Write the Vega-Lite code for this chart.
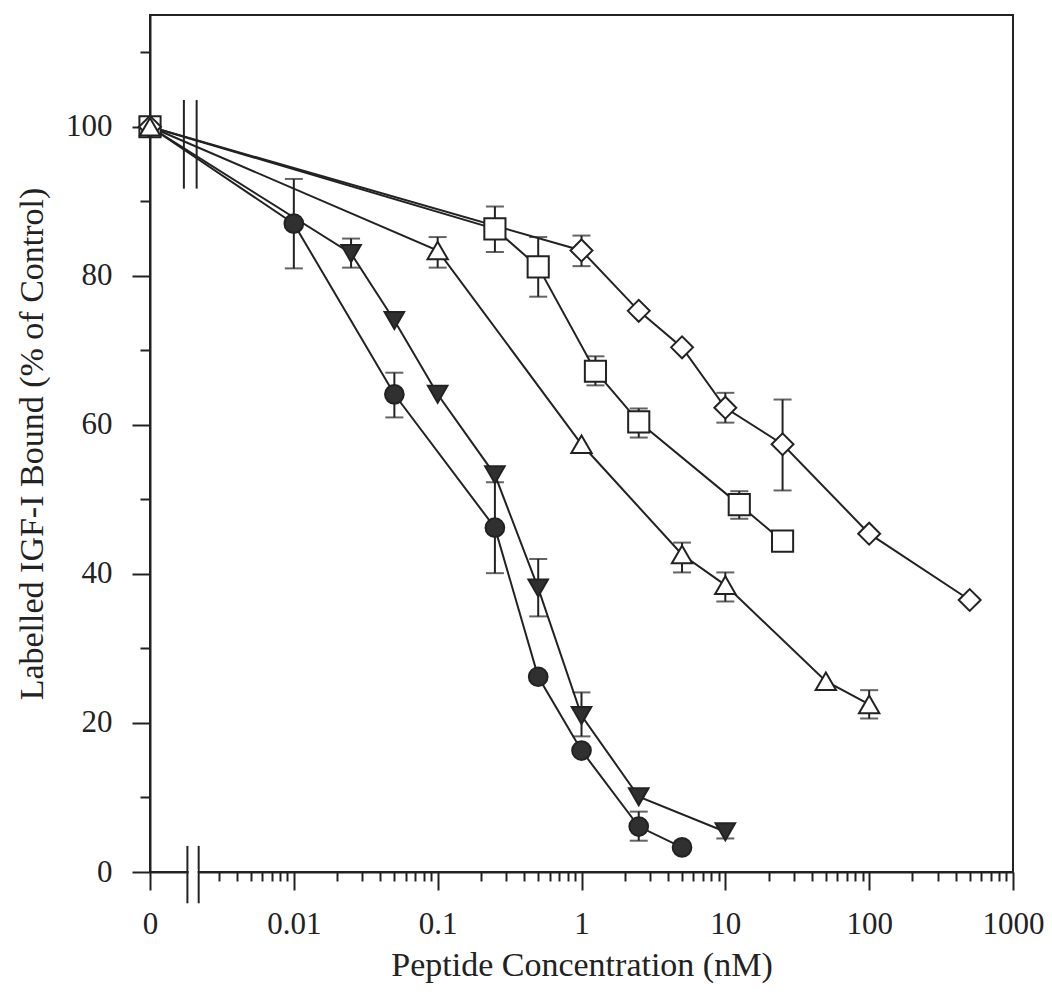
{
  "$schema": "https://vega.github.io/schema/vega-lite/v6.json",
  "width": 863,
  "height": 857,
  "autosize": {"type": "none"},
  "padding": {"left": 150, "top": 15, "right": 39, "bottom": 130},
  "background": "white",
  "config": {
    "view": {"stroke": "#222", "strokeWidth": 2},
    "axis": {
      "labelFont": "Liberation Serif",
      "titleFont": "Liberation Serif",
      "labelColor": "#222",
      "titleColor": "#222",
      "domainColor": "#222",
      "tickColor": "#222",
      "grid": false,
      "domainWidth": 2,
      "tickWidth": 2,
      "titleFontWeight": "normal",
      "labelFontSize": 31,
      "titleFontSize": 34,
      "labelOverlap": false,
      "labelFlush": false
    }
  },
  "datasets": {
    "pts": [
      {"series": "A", "conc": 0.001, "val": 100},
      {"series": "A", "conc": 0.01, "val": 87},
      {"series": "A", "conc": 0.05, "val": 64.1},
      {"series": "A", "conc": 0.25, "val": 46.2},
      {"series": "A", "conc": 0.5, "val": 26.2},
      {"series": "A", "conc": 1, "val": 16.3},
      {"series": "A", "conc": 2.5, "val": 6.1},
      {"series": "A", "conc": 5, "val": 3.3},
      {"series": "B", "conc": 0.001, "val": 100},
      {"series": "B", "conc": 0.025, "val": 83},
      {"series": "B", "conc": 0.05, "val": 74},
      {"series": "B", "conc": 0.1, "val": 64.1},
      {"series": "B", "conc": 0.25, "val": 53.3},
      {"series": "B", "conc": 0.5, "val": 38.1},
      {"series": "B", "conc": 1, "val": 21},
      {"series": "B", "conc": 2.5, "val": 10.1},
      {"series": "B", "conc": 10, "val": 5.4},
      {"series": "D", "conc": 0.001, "val": 100},
      {"series": "D", "conc": 0.25, "val": 86.3},
      {"series": "D", "conc": 0.5, "val": 81.2},
      {"series": "D", "conc": 1.25, "val": 67.2},
      {"series": "D", "conc": 2.5, "val": 60.4},
      {"series": "D", "conc": 12.5, "val": 49.3},
      {"series": "D", "conc": 25, "val": 44.4},
      {"series": "E", "conc": 0.001, "val": 100},
      {"series": "E", "conc": 1, "val": 83.4},
      {"series": "E", "conc": 2.5, "val": 75.3},
      {"series": "E", "conc": 5, "val": 70.4},
      {"series": "E", "conc": 10, "val": 62.3},
      {"series": "E", "conc": 25, "val": 57.4},
      {"series": "E", "conc": 100, "val": 45.4},
      {"series": "E", "conc": 500, "val": 36.5},
      {"series": "C", "conc": 0.001, "val": 100},
      {"series": "C", "conc": 0.1, "val": 83.4},
      {"series": "C", "conc": 1, "val": 57.4},
      {"series": "C", "conc": 5, "val": 42.6},
      {"series": "C", "conc": 10, "val": 38.5},
      {"series": "C", "conc": 50, "val": 25.6},
      {"series": "C", "conc": 100, "val": 22.5}
    ],
    "errs": [
      {"series": "A", "conc": 0.01, "lo": 81, "hi": 93},
      {"series": "A", "conc": 0.05, "lo": 61, "hi": 67},
      {"series": "A", "conc": 0.25, "lo": 40.1, "hi": 52.3},
      {"series": "A", "conc": 2.5, "lo": 4.2, "hi": 8.1},
      {"series": "B", "conc": 0.025, "lo": 81.1, "hi": 85},
      {"series": "B", "conc": 0.5, "lo": 34.3, "hi": 42},
      {"series": "B", "conc": 1, "lo": 18.2, "hi": 24.1},
      {"series": "B", "conc": 10, "lo": 4.5, "hi": 6.3},
      {"series": "C", "conc": 0.1, "lo": 81.1, "hi": 85.2},
      {"series": "C", "conc": 5, "lo": 40.2, "hi": 44.2},
      {"series": "C", "conc": 10, "lo": 36.3, "hi": 40.2},
      {"series": "C", "conc": 100, "lo": 20.6, "hi": 24.4},
      {"series": "D", "conc": 0.25, "lo": 83.2, "hi": 89.3},
      {"series": "D", "conc": 0.5, "lo": 77.2, "hi": 85.2},
      {"series": "D", "conc": 1.25, "lo": 65.3, "hi": 69.2},
      {"series": "D", "conc": 2.5, "lo": 58.3, "hi": 62.2},
      {"series": "D", "conc": 12.5, "lo": 47.4, "hi": 51.1},
      {"series": "E", "conc": 1, "lo": 81.3, "hi": 85.4},
      {"series": "E", "conc": 10, "lo": 60.3, "hi": 64.3},
      {"series": "E", "conc": 25, "lo": 51.2, "hi": 63.4}
    ],
    "breaks": [
      {"kind": "bar", "x": 0.00172, "y1": 91.7, "y2": 103.6},
      {"kind": "bar", "x": 0.00211, "y1": 91.7, "y2": 103.6},
      {"kind": "bar", "x": 0.00182, "y1": -4.2, "y2": 3.5},
      {"kind": "bar", "x": 0.00218, "y1": -4.2, "y2": 3.5}
    ],
    "gap": [
      {"x1": 0.00186, "x2": 0.00214, "y": 0}
    ]
  },
  "layer": [
    {
      "layer": [
        {
          "data": {"name": "pts"},
          "mark": {"type": "line", "color": "#222", "strokeWidth": 2},
          "encoding": {
            "x": {"field": "conc", "type": "quantitative", "scale": {"type": "log", "domain": [0.001, 1000], "nice": false},
              "axis": {"orient": "bottom", "title": "Peptide Concentration (nM)", "values": [0.001, 0.01, 0.1, 1, 10, 100, 1000], "labelExpr": "datum.value < 0.005 ? '0' : '' + datum.value", "tickSize": 18, "labelPadding": 19, "titlePadding": 9}},
            "y": {"field": "val", "type": "quantitative", "scale": {"domain": [0, 115], "nice": false, "zero": false},
              "axis": {"orient": "left", "title": "Labelled IGF-I Bound (% of Control)", "values": [0, 20, 40, 60, 80, 100], "tickSize": 18, "labelPadding": 20, "titlePadding": 16}},
            "detail": {"field": "series"}
          }
        },
        {
          "data": {"name": "errs"},
          "mark": {"type": "rule", "color": "#222", "strokeWidth": 2},
          "encoding": {
            "x": {"field": "conc", "type": "quantitative", "scale": {"type": "log", "domain": [0.001, 1000], "nice": false},
              "axis": {"orient": "bottom", "title": "Peptide Concentration (nM)", "values": [0.001, 0.01, 0.1, 1, 10, 100, 1000], "labelExpr": "datum.value < 0.005 ? '0' : '' + datum.value", "tickSize": 18, "labelPadding": 19, "titlePadding": 9}},
            "y": {"field": "lo", "type": "quantitative", "scale": {"domain": [0, 115], "nice": false, "zero": false},
              "axis": {"orient": "left", "title": "Labelled IGF-I Bound (% of Control)", "values": [0, 20, 40, 60, 80, 100], "tickSize": 18, "labelPadding": 20, "titlePadding": 16}},
            "y2": {"field": "hi"}
          }
        },
        {
          "data": {"name": "errs"},
          "mark": {"type": "tick", "orient": "horizontal", "color": "#222", "thickness": 2, "size": 18},
          "encoding": {
            "x": {"field": "conc", "type": "quantitative", "scale": {"type": "log", "domain": [0.001, 1000], "nice": false},
              "axis": {"orient": "bottom", "title": "Peptide Concentration (nM)", "values": [0.001, 0.01, 0.1, 1, 10, 100, 1000], "labelExpr": "datum.value < 0.005 ? '0' : '' + datum.value", "tickSize": 18, "labelPadding": 19, "titlePadding": 9}},
            "y": {"field": "lo", "type": "quantitative", "scale": {"domain": [0, 115], "nice": false, "zero": false},
              "axis": {"orient": "left", "title": "Labelled IGF-I Bound (% of Control)", "values": [0, 20, 40, 60, 80, 100], "tickSize": 18, "labelPadding": 20, "titlePadding": 16}}
          }
        },
        {
          "data": {"name": "errs"},
          "mark": {"type": "tick", "orient": "horizontal", "color": "#222", "thickness": 2, "size": 18},
          "encoding": {
            "x": {"field": "conc", "type": "quantitative", "scale": {"type": "log", "domain": [0.001, 1000], "nice": false},
              "axis": {"orient": "bottom", "title": "Peptide Concentration (nM)", "values": [0.001, 0.01, 0.1, 1, 10, 100, 1000], "labelExpr": "datum.value < 0.005 ? '0' : '' + datum.value", "tickSize": 18, "labelPadding": 19, "titlePadding": 9}},
            "y": {"field": "hi", "type": "quantitative", "scale": {"domain": [0, 115], "nice": false, "zero": false},
              "axis": {"orient": "left", "title": "Labelled IGF-I Bound (% of Control)", "values": [0, 20, 40, 60, 80, 100], "tickSize": 18, "labelPadding": 20, "titlePadding": 16}}
          }
        },
        {
          "data": {"name": "pts"},
          "mark": {"type": "point", "filled": true, "stroke": "#222", "strokeWidth": 2, "opacity": 1},
          "encoding": {
            "x": {"field": "conc", "type": "quantitative", "scale": {"type": "log", "domain": [0.001, 1000], "nice": false},
              "axis": {"orient": "bottom", "title": "Peptide Concentration (nM)", "values": [0.001, 0.01, 0.1, 1, 10, 100, 1000], "labelExpr": "datum.value < 0.005 ? '0' : '' + datum.value", "tickSize": 18, "labelPadding": 19, "titlePadding": 9}},
            "y": {"field": "val", "type": "quantitative", "scale": {"domain": [0, 115], "nice": false, "zero": false},
              "axis": {"orient": "left", "title": "Labelled IGF-I Bound (% of Control)", "values": [0, 20, 40, 60, 80, 100], "tickSize": 18, "labelPadding": 20, "titlePadding": 16}},
            "shape": {"field": "series", "type": "nominal", "legend": null,
              "scale": {"domain": ["A", "B", "C", "D", "E"], "range": ["circle", "triangle-down", "triangle-up", "square", "diamond"]}},
            "fill": {"field": "series", "type": "nominal", "legend": null,
              "scale": {"domain": ["A", "B", "C", "D", "E"], "range": ["#303030", "#303030", "#ffffff", "#ffffff", "#ffffff"]}},
            "size": {"field": "series", "type": "nominal", "legend": null,
              "scale": {"domain": ["A", "B", "C", "D", "E"], "range": [350, 480, 470, 330, 560]}}
          }
        }
      ]
    },
    {
      "layer": [
        {
          "data": {"name": "breaks"},
          "mark": {"type": "rule", "color": "#222", "strokeWidth": 2},
          "encoding": {
            "x": {"field": "x", "type": "quantitative", "scale": {"type": "log", "domain": [0.001, 1000], "nice": false},
              "axis": {"orient": "bottom", "title": null, "labels": false, "domain": false, "tickSize": 9,
                "values": [0.003, 0.004, 0.005, 0.006, 0.007, 0.008, 0.009, 0.02, 0.03, 0.04, 0.05, 0.06, 0.07, 0.08, 0.09, 0.2, 0.3, 0.4, 0.5, 0.6, 0.7, 0.8, 0.9, 2, 3, 4, 5, 6, 7, 8, 9, 20, 30, 40, 50, 60, 70, 80, 90, 200, 300, 400, 500, 600, 700, 800, 900]}},
            "y": {"field": "y1", "type": "quantitative", "scale": {"domain": [0, 115], "nice": false, "zero": false},
              "axis": {"orient": "left", "title": null, "labels": false, "domain": false, "tickSize": 10, "values": [10, 30, 50, 70, 90, 110]}},
            "y2": {"field": "y2"}
          }
        },
        {
          "data": {"name": "gap"},
          "mark": {"type": "rule", "color": "white", "strokeWidth": 5},
          "encoding": {
            "x": {"field": "x1", "type": "quantitative", "scale": {"type": "log", "domain": [0.001, 1000], "nice": false},
              "axis": {"orient": "bottom", "title": null, "labels": false, "domain": false, "tickSize": 9,
                "values": [0.003, 0.004, 0.005, 0.006, 0.007, 0.008, 0.009, 0.02, 0.03, 0.04, 0.05, 0.06, 0.07, 0.08, 0.09, 0.2, 0.3, 0.4, 0.5, 0.6, 0.7, 0.8, 0.9, 2, 3, 4, 5, 6, 7, 8, 9, 20, 30, 40, 50, 60, 70, 80, 90, 200, 300, 400, 500, 600, 700, 800, 900]}},
            "x2": {"field": "x2"},
            "y": {"field": "y", "type": "quantitative", "scale": {"domain": [0, 115], "nice": false, "zero": false},
              "axis": {"orient": "left", "title": null, "labels": false, "domain": false, "tickSize": 10, "values": [10, 30, 50, 70, 90, 110]}}
          }
        }
      ]
    }
  ],
  "resolve": {"axis": {"x": "independent", "y": "independent"}}
}
